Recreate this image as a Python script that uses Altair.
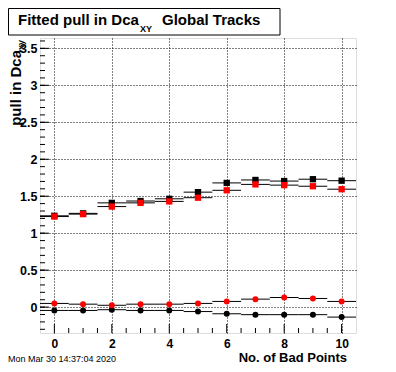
import altair as alt
import pandas as pd

# ---- data ----
bad_points = [0, 1, 2, 3, 4, 5, 6, 7, 8, 9, 10]
sigma_black = [1.235, 1.268, 1.41, 1.435, 1.465, 1.555, 1.68, 1.72, 1.705, 1.73, 1.71]
sigma_red = [1.225, 1.258, 1.36, 1.41, 1.43, 1.48, 1.58, 1.66, 1.65, 1.635, 1.595]
mean_red = [0.05, 0.04, 0.025, 0.04, 0.04, 0.05, 0.077, 0.108, 0.13, 0.117, 0.077]
mean_black = [-0.045, -0.045, -0.035, -0.045, -0.045, -0.06, -0.09, -0.102, -0.102, -0.102, -0.135]

x_major = [0, 2, 4, 6, 8, 10]
x_minor = [0.5, 1, 1.5, 2.5, 3, 3.5, 4.5, 5, 5.5, 6.5, 7, 7.5, 8.5, 9, 9.5, 10]
y_major = [0, 0.5, 1, 1.5, 2, 2.5, 3, 3.5]
y_minor = [round(-0.3 + 0.1 * i, 2) for i in range(40)]

series = [
    ("sigma_black", sigma_black),
    ("sigma_red", sigma_red),
    ("mean_black", mean_black),
    ("mean_red", mean_red),
]
rows = []
for name, vals in series:
    for b, v in zip(bad_points, vals):
        rows.append({"x": b, "lo": b - 0.5, "hi": b + 0.5, "y": v, "series": name})
df = pd.DataFrame(rows)

FONT = "Liberation Sans"
W, H = 316, 295

xs = alt.Scale(domain=[-0.5, 10.5], nice=False, zero=False)
ys = alt.Scale(domain=[-0.35, 3.64], nice=False, zero=False)

x_axis = alt.Axis(values=x_major, grid=True, ticks=False, domain=False, title=None,
                  labelPadding=5, labelFont=FONT, labelFontWeight="bold",
                  labelFontSize=12, labelColor="black", gridColor="black",
                  gridDash=[1, 2], gridOpacity=1, gridWidth=1, labelFlush=False,
                  labelBaseline="top")
y_axis = alt.Axis(values=y_major, grid=True, ticks=False, domain=False, title=None,
                  format=".1~f", labelPadding=3, labelFont=FONT,
                  labelFontWeight="bold", labelFontSize=12.5, labelColor="black",
                  gridColor="black", gridDash=[1, 2], gridOpacity=1, gridWidth=1,
                  labelFlush=False)

base = alt.Chart(df)

bars = base.mark_rule(color="black", strokeWidth=1).encode(
    x=alt.X("lo:Q", scale=xs, axis=x_axis),
    x2="hi:Q",
    y=alt.Y("y:Q", scale=ys, axis=y_axis),
)


def pts(name, shape, color, size):
    return base.transform_filter(alt.datum.series == name).mark_point(
        shape=shape, filled=True, color=color, opacity=1, size=size, strokeWidth=0
    ).encode(
        x=alt.X("x:Q", scale=xs, axis=x_axis),
        y=alt.Y("y:Q", scale=ys, axis=y_axis),
    )


p1 = pts("sigma_black", "square", "black", 40)
p2 = pts("sigma_red", "square", "#ff0000", 40)
p3 = pts("mean_black", "circle", "black", 36)
p4 = pts("mean_red", "circle", "#ff0000", 36)

# inside ticks (ROOT style)
ytick_df = pd.DataFrame({"v": y_major})
ymin_df = pd.DataFrame({"v": y_minor})
xtick_df = pd.DataFrame({"v": x_major})
xmin_df = pd.DataFrame({"v": x_minor})

ytm = alt.Chart(ytick_df).mark_rule(color="black").encode(
    y=alt.Y("v:Q", scale=ys, axis=y_axis), x=alt.value(0), x2=alt.value(9))
ytn = alt.Chart(ymin_df).mark_rule(color="black").encode(
    y=alt.Y("v:Q", scale=ys, axis=y_axis), x=alt.value(0), x2=alt.value(5))
xtm = alt.Chart(xtick_df).mark_rule(color="black").encode(
    x=alt.X("v:Q", scale=xs, axis=x_axis), y=alt.value(H), y2=alt.value(H - 9))
xtn = alt.Chart(xmin_df).mark_rule(color="black").encode(
    x=alt.X("v:Q", scale=xs, axis=x_axis), y=alt.value(H), y2=alt.value(H - 5))

dummy = alt.Data(values=[{"a": 1}])


def txt(text, x, y, size, weight="bold", align="left", angle=0):
    return alt.Chart(dummy).mark_text(
        text=text, font=FONT, fontSize=size, fontWeight=weight, align=align,
        baseline="alphabetic", angle=angle, color="black"
    ).encode(x=alt.value(x), y=alt.value(y))


box = alt.Chart(dummy).mark_rect(fill="white", fillOpacity=0, stroke="black",
                                 strokeWidth=1).encode(
    x=alt.value(-31.5), x2=alt.value(240), y=alt.value(-29.5), y2=alt.value(-3))

t1 = txt("Fitted pull in Dca", -22, -13, 15)
t2 = txt("XY", 100, -6, 9)
t3 = txt("Global Tracks", 122, -13, 15)
ytitle = txt("pull in Dca", -19.5, 12, 15, align="right", angle=270)
ysub = txt("xy", -16.5, 12, 9, align="left", angle=270)
xtitle = txt("No. of Bad Points", 307, 323.5, 13, align="right")
date = txt("Mon Mar 30 14:37:04 2020", -32, 323.5, 9, weight="normal")

chart = alt.layer(
    bars, ytm, ytn, xtm, xtn, p1, p2, p3, p4,
    box, t1, t2, t3, ytitle, ysub, xtitle, date
).properties(
    width=W, height=H,
    padding={"left": 32, "top": 30, "right": 24, "bottom": 31},
    autosize=alt.AutoSizeParams(type="none"),
).configure_view(stroke="black", strokeWidth=1).configure(background="white")

chart.save("out.html", embed_options={"renderer": "svg", "actions": False})
